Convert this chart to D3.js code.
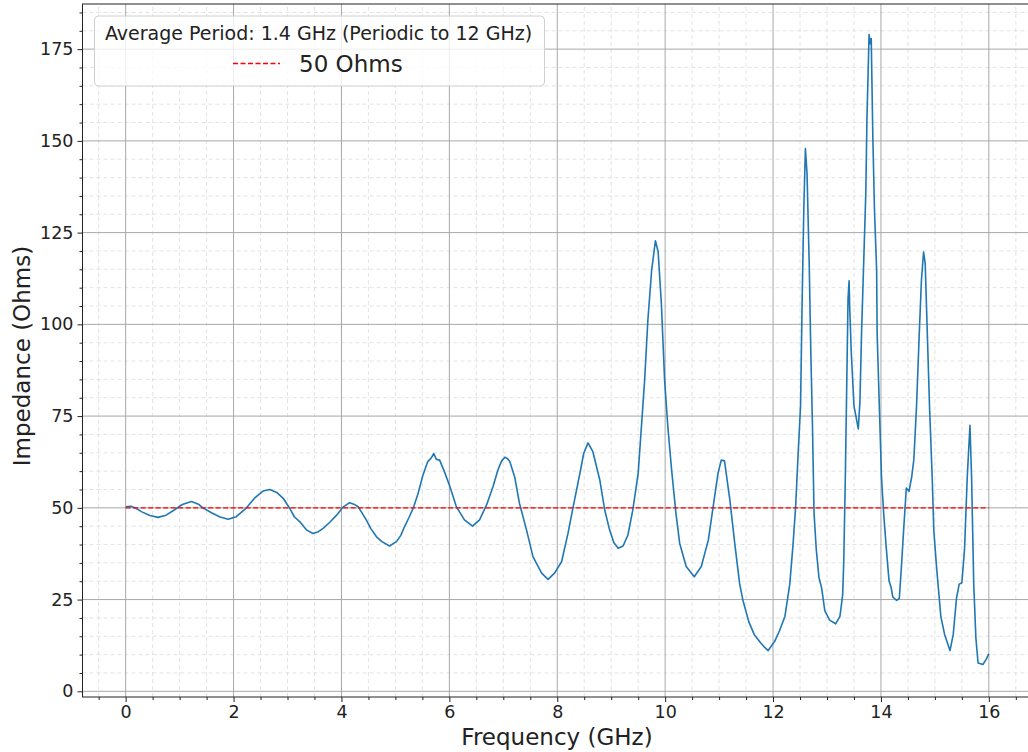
<!DOCTYPE html>
<html>
<head>
<meta charset="utf-8">
<script src="https://cdn.jsdelivr.net/npm/d3@7"></script>
<style>
  body { margin: 0; background: white; }
  svg { display: block; font-family: "DejaVu Sans", sans-serif; }
</style>
</head>
<body>
<div class="ImpedanceGraph"></div>
<script>
const freqGHz = [
  0, 0.1, 0.2, 0.3, 0.45, 0.6, 0.75, 0.9, 1.05, 1.22, 1.35, 1.43, 1.6, 1.75, 1.9, 2.05,
  2.24, 2.4, 2.55, 2.67, 2.8, 2.92, 3.04, 3.13, 3.23, 3.35, 3.47, 3.56, 3.66, 3.78, 3.91, 4.03,
  4.15, 4.23, 4.31, 4.46, 4.55, 4.65, 4.75, 4.89, 5.02, 5.1, 5.17, 5.25, 5.33, 5.42, 5.51, 5.6,
  5.66, 5.71, 5.76, 5.82, 5.91, 6.01, 6.13, 6.28, 6.43, 6.56, 6.69, 6.81, 6.9, 6.97, 7.03, 7.08,
  7.12, 7.21, 7.3, 7.43, 7.55, 7.71, 7.83, 7.95, 8.08, 8.2, 8.29, 8.42, 8.49, 8.57, 8.66, 8.79,
  8.88, 8.97, 9.05, 9.13, 9.22, 9.31, 9.4, 9.5, 9.56, 9.62, 9.68, 9.75, 9.82, 9.87, 9.93, 9.99,
  10.05, 10.12, 10.2, 10.27, 10.39, 10.54, 10.67, 10.8, 10.89, 10.98, 11.04, 11.1, 11.2, 11.29, 11.38, 11.44,
  11.55, 11.65, 11.75, 11.83, 11.91, 12.03, 12.12, 12.22, 12.31, 12.37, 12.42, 12.46, 12.51, 12.54, 12.57, 12.6,
  12.63, 12.67, 12.7, 12.73, 12.76, 12.8, 12.85, 12.9, 12.96, 13.05, 13.16, 13.24, 13.29, 13.31, 13.34, 13.37,
  13.39, 13.41, 13.42, 13.45, 13.5, 13.55, 13.58, 13.61, 13.64, 13.68, 13.72, 13.74, 13.78, 13.8, 13.82, 13.85,
  13.88, 13.92, 13.93, 13.97, 14.01, 14.05, 14.1, 14.15, 14.19, 14.22, 14.29, 14.34, 14.38, 14.42, 14.47, 14.52,
  14.57, 14.61, 14.66, 14.71, 14.75, 14.79, 14.82, 14.86, 14.9, 14.95, 14.98, 15.03, 15.11, 15.18, 15.28, 15.34,
  15.4, 15.45, 15.5, 15.55, 15.6, 15.65, 15.68, 15.72, 15.76, 15.8, 15.89, 15.95, 16.0
];
const impedanceOhms = [
  50.3, 50.4, 49.8, 48.9, 47.9, 47.4, 48.0, 49.4, 50.9, 51.7, 51.0, 50.0, 48.6, 47.5, 46.9, 47.6,
  50.0, 52.8, 54.6, 55.0, 54.2, 52.6, 49.9, 47.5, 46.2, 44.0, 43.0, 43.4, 44.4, 46.0, 48.0, 50.2,
  51.4, 51.0, 50.3, 46.7, 44.2, 42.1, 40.8, 39.6, 40.8, 42.5, 44.9, 47.3, 49.9, 53.9, 58.9, 62.6,
  63.5, 64.8, 63.2, 63.0, 59.8, 55.8, 50.3, 46.7, 45.0, 46.7, 50.8, 55.8, 60.3, 62.8, 63.8, 63.4,
  62.6, 58.5, 51.2, 44.0, 36.7, 32.2, 30.5, 32.2, 35.3, 43.1, 49.9, 59.4, 64.8, 67.7, 65.3, 57.5,
  49.4, 44.0, 40.5, 39.0, 39.6, 42.6, 49.4, 59.4, 72.1, 84.8, 101.2, 114.8, 122.8, 119.8, 105.7, 84.8,
  72.1, 60.3, 48.5, 40.3, 34.0, 31.2, 34.0, 41.2, 50.3, 59.4, 63.0, 62.8, 52.1, 40.3, 29.4, 24.9,
  19.0, 15.5, 13.6, 12.2, 11.1, 13.6, 16.5, 20.4, 29.2, 39.9, 50.6, 63.2, 77.8, 107.0, 131.3, 147.9,
  141.1, 116.7, 92.4, 72.9, 48.6, 38.9, 31.1, 28.2, 21.9, 19.4, 18.4, 20.4, 26.2, 35.0, 58.4, 87.5,
  107.0, 111.9, 105.1, 92.4, 77.8, 73.9, 71.5, 78.8, 97.3, 116.7, 136.2, 155.7, 179.0, 176.5, 177.9, 150.8,
  131.3, 114.8, 97.3, 77.8, 58.4, 48.6, 38.9, 30.1, 28.2, 25.7, 24.8, 25.3, 34.0, 43.8, 55.4, 54.5,
  58.4, 63.2, 77.8, 97.3, 111.9, 119.7, 116.7, 97.3, 77.8, 58.4, 43.8, 34.0, 20.4, 15.5, 11.1, 15.5,
  25.3, 29.2, 29.6, 38.9, 58.4, 72.5, 58.4, 29.2, 14.5, 7.7, 7.3, 8.7, 10.2
];
// reference level and its span
const refOhms = 50;
const refSpan = [0, 16];
// tick values
const xTicks = [0, 2, 4, 6, 8, 10, 12, 14, 16];
const yTicks = [0, 25, 50, 75, 100, 125, 150, 175];
const legendTitle = "Average Period: 1.4 GHz (Periodic to 12 GHz)";
const legendLabel = "50 Ohms";

const data = freqGHz.map((f, i) => ({ f: f, z: impedanceOhms[i] }));

const width = 1028, height = 752;
const margin = ({ top: 4, right: -4, bottom: 55, left: 82.5 });

//x scale (matplotlib style 5% padding)
const x = d3.scaleLinear()
  .domain([-0.8, 16.8])
  .range([margin.left, width - margin.right]);

//y scale
const y = d3.scaleLinear()
  .domain([-1.55, 187.3])
  .range([height - margin.bottom, margin.top]);

const xMinor = d3.range(-0.5, 16.8, 0.5).filter(v => v % 2 !== 0);
const yMinor = d3.range(0, 187, 5).filter(v => v % 25 !== 0);

const svg = d3.select(".ImpedanceGraph").append("svg")
  .attr("width", width)
  .attr("height", height);

const x0 = margin.left, x1 = width - margin.right;
const y0 = height - margin.bottom, y1 = margin.top;

//minor grid
svg.append("g")
  .selectAll("line")
  .data(xMinor)
  .join("line")
  .attr("x1", d => x(d)).attr("x2", d => x(d))
  .attr("y1", y0).attr("y2", y1)
  .attr("stroke", "#dcdcdc").attr("stroke-width", 0.8)
  .attr("stroke-dasharray", "4,3");
svg.append("g")
  .selectAll("line")
  .data(yMinor)
  .join("line")
  .attr("x1", x0).attr("x2", x1)
  .attr("y1", d => y(d)).attr("y2", d => y(d))
  .attr("stroke", "#dcdcdc").attr("stroke-width", 0.8)
  .attr("stroke-dasharray", "4,3");

//major grid
svg.append("g")
  .selectAll("line")
  .data(xTicks)
  .join("line")
  .attr("x1", d => x(d)).attr("x2", d => x(d))
  .attr("y1", y0).attr("y2", y1)
  .attr("stroke", "#a8a8a8").attr("stroke-width", 1);
svg.append("g")
  .selectAll("line")
  .data(yTicks)
  .join("line")
  .attr("x1", x0).attr("x2", x1)
  .attr("y1", d => y(d)).attr("y2", d => y(d))
  .attr("stroke", "#a8a8a8").attr("stroke-width", 1);

//impedance line
const line = d3.line()
  .x(d => x(d.f))
  .y(d => y(d.z));

svg.append("path")
  .datum(data)
  .attr("fill", "none")
  .attr("stroke", "#1f77b4")
  .attr("stroke-width", 1.6)
  .attr("stroke-linejoin", "round")
  .attr("d", line);

//50 ohm reference
svg.append("line")
  .attr("x1", x(refSpan[0])).attr("x2", x(refSpan[1]))
  .attr("y1", y(refOhms)).attr("y2", y(refOhms))
  .attr("stroke", "#ff0000").attr("stroke-width", 1.4)
  .attr("stroke-dasharray", "5,2.5");

//axes
const xAxis = g => g
  .attr("transform", `translate(0,${y0})`)
  .call(d3.axisBottom(x).tickValues(xTicks).tickFormat(d3.format("d")).tickSize(5).tickPadding(4))
  .call(g => g.select(".domain").remove());
const xAxisMinor = g => g
  .attr("transform", `translate(0,${y0})`)
  .call(d3.axisBottom(x).tickValues(xMinor).tickFormat("").tickSize(3))
  .call(g => g.select(".domain").remove());
const yAxis = g => g
  .attr("transform", `translate(${x0},0)`)
  .call(d3.axisLeft(y).tickValues(yTicks).tickFormat(d3.format("d")).tickSize(5).tickPadding(4))
  .call(g => g.select(".domain").remove());
const yAxisMinor = g => g
  .attr("transform", `translate(${x0},0)`)
  .call(d3.axisLeft(y).tickValues(yMinor).tickFormat("").tickSize(3))
  .call(g => g.select(".domain").remove());

svg.append("g").attr("class", "x axis").call(xAxis);
svg.append("g").call(xAxisMinor);
svg.append("g").attr("class", "y axis").call(yAxis);
svg.append("g").call(yAxisMinor);

svg.selectAll(".axis text")
  .attr("font-size", 17.5)
  .attr("font-family", "DejaVu Sans")
  .attr("fill", "#222");
svg.selectAll(".tick line").attr("stroke", "#222");

//spines
svg.append("rect")
  .attr("x", x0).attr("y", y1)
  .attr("width", x1 - x0).attr("height", y0 - y1)
  .attr("fill", "none").attr("stroke", "#222").attr("stroke-width", 1);

//axis labels
svg.append("text")
  .text("Frequency (GHz)")
  .attr("x", 557)
  .attr("y", 745)
  .attr("text-anchor", "middle")
  .attr("font-size", 23)
  .attr("fill", "#222");

svg.append("text")
  .text("Impedance (Ohms)")
  .attr("transform", `translate(30,356) rotate(-90)`)
  .attr("text-anchor", "middle")
  .attr("font-size", 23)
  .attr("fill", "#222");

//legend
const legend = svg.append("g");
legend.append("rect")
  .attr("x", 94.5).attr("y", 16)
  .attr("width", 450).attr("height", 70)
  .attr("rx", 4)
  .attr("fill", "white").attr("fill-opacity", 0.8)
  .attr("stroke", "#d0d0d0").attr("stroke-width", 1);
legend.append("text")
  .text(legendTitle)
  .attr("x", 318.5).attr("y", 39.5)
  .attr("text-anchor", "middle")
  .attr("font-size", 19)
  .attr("fill", "#222");
legend.append("line")
  .attr("x1", 233).attr("x2", 280)
  .attr("y1", 63.5).attr("y2", 63.5)
  .attr("stroke", "#ff0000").attr("stroke-width", 1.4)
  .attr("stroke-dasharray", "5,2.5");
legend.append("text")
  .text(legendLabel)
  .attr("x", 299).attr("y", 72)
  .attr("font-size", 23)
  .attr("fill", "#222");
</script>
</body>
</html>
